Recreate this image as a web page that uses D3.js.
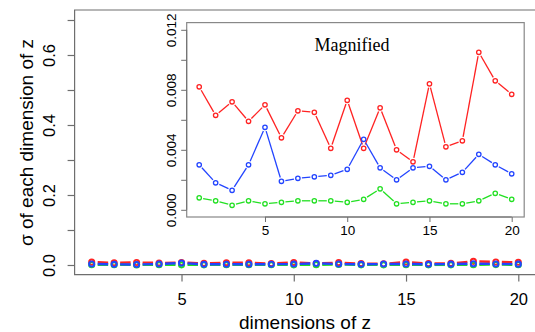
<!DOCTYPE html>
<html>
<head>
<meta charset="utf-8">
<script src="https://cdn.jsdelivr.net/npm/d3@7"></script>
<style>
  body { margin: 0; background: #fff; }
  svg { display: block; }
  text { font-family: "Liberation Sans", Arial, sans-serif; fill: #000; }
</style>
</head>
<body>
<svg id="chart" width="535" height="332"></svg>
<script>
// dimensions of z
const dims = d3.range(1, 21);

// sigma per dimension, three runs
const sigmaRed = [0.0082, 0.0063, 0.0072, 0.0059, 0.0070, 0.0048, 0.0066, 0.0065, 0.0041, 0.0073,
                  0.0041, 0.0068, 0.0040, 0.0032, 0.0084, 0.0042, 0.0046, 0.0105, 0.0086, 0.0077];
const sigmaBlue = [0.0030, 0.0018, 0.0013, 0.0030, 0.0055, 0.0019, 0.0021, 0.0022, 0.0023, 0.0027,
                   0.0047, 0.0028, 0.0020, 0.0028, 0.0029, 0.0020, 0.0025, 0.0037, 0.0030, 0.0024];
const sigmaGreen = [0.0008, 0.0006, 0.0003, 0.0006, 0.0004, 0.0005, 0.0006, 0.0006, 0.0006, 0.0005,
                    0.0007, 0.0014, 0.0004, 0.0005, 0.0006, 0.0004, 0.0004, 0.0006, 0.0011, 0.0007];

const series = [
  { name: 'red', color: '#ff2222', values: sigmaRed },
  { name: 'green', color: '#22e022', values: sigmaGreen },
  { name: 'blue', color: '#2244ff', values: sigmaBlue },
];

const mainXTicks = [5, 10, 15, 20];
const mainYTicks = [0, 0.1, 0.2, 0.3, 0.4, 0.5, 0.6, 0.7];
const mainYLabels = [0, 0.2, 0.4, 0.6];
const insetXTicks = [5, 10, 15, 20];
const insetYTicks = [0, 0.002, 0.004, 0.006, 0.008, 0.010, 0.012];
const insetYLabels = [0, 0.004, 0.008, 0.012];

const svg = d3.select('#chart');
const axisGrey = '#6e6e6e';

// main plot scales
const x = d3.scaleLinear().domain([1, 20]).range([91.7, 518.3]);
const y = d3.scaleLinear().domain([0, 0.7]).range([265, 20]);
const plotLeft = 74.6, plotTop = 10, plotBottom = 274.6;

// inset scales
const ix = d3.scaleLinear().domain([1, 20]).range([199.2, 511.7]);
const iy = d3.scaleLinear().domain([0, 0.012]).range([209.8, 29.8]);
const insetBox = { x0: 186.7, x1: 524.2, y0: 22.6, y1: 217 };

// R-style "b" type: segments that stop short of the points
function gapSegments(vals, sx, sy, gap) {
  const out = [];
  for (let i = 0; i < vals.length - 1; i++) {
    const x1 = sx(dims[i]), y1 = sy(vals[i]);
    const x2 = sx(dims[i + 1]), y2 = sy(vals[i + 1]);
    const len = Math.hypot(x2 - x1, y2 - y1);
    if (len <= 2 * gap) continue;
    const ux = (x2 - x1) / len, uy = (y2 - y1) / len;
    out.push([x1 + ux * gap, y1 + uy * gap, x2 - ux * gap, y2 - uy * gap]);
  }
  return out;
}

function drawSeries(g, sx, sy, opts) {
  series.forEach((s) => {
    const sg = g.append('g');
    sg.selectAll('line')
      .data(gapSegments(s.values, sx, sy, opts.gap))
      .join('line')
      .attr('x1', (d) => d[0]).attr('y1', (d) => d[1])
      .attr('x2', (d) => d[2]).attr('y2', (d) => d[3])
      .attr('stroke', s.color)
      .attr('stroke-width', opts.lw);
    sg.selectAll('circle')
      .data(s.values)
      .join('circle')
      .attr('cx', (d, i) => sx(dims[i]))
      .attr('cy', (d) => sy(d))
      .attr('r', opts.r)
      .attr('fill', 'none')
      .attr('stroke', s.color)
      .attr('stroke-width', opts.cw);
  });
}

// ---- main plot ----
// box (right side falls off the picture)
svg.append('path')
  .attr('d', `M535,${plotTop}H${plotLeft}V${plotBottom}H535`)
  .attr('fill', 'none')
  .attr('stroke', axisGrey)
  .attr('stroke-width', 1.2);

const yAxis = svg.append('g')
  .attr('transform', `translate(${plotLeft},0)`)
  .call(d3.axisLeft(y).tickValues(mainYTicks).tickSize(7)
    .tickFormat((d) => (mainYLabels.includes(d) ? d3.format('.1f')(d) : '')));
yAxis.select('.domain').remove();
yAxis.selectAll('line').attr('stroke', axisGrey).attr('stroke-width', 1.2);
yAxis.selectAll('text')
  .attr('transform', 'rotate(-90)')
  .attr('x', 0).attr('y', -19.6).attr('dy', null)
  .attr('text-anchor', 'middle')
  .style('font-size', '16.5px')
  .style('font-family', '"Liberation Sans", Arial, sans-serif');

const xAxis = svg.append('g')
  .attr('transform', `translate(0,${plotBottom})`)
  .call(d3.axisBottom(x).tickValues(mainXTicks).tickSize(7).tickPadding(0));
xAxis.select('.domain').remove();
xAxis.selectAll('line').attr('stroke', axisGrey).attr('stroke-width', 1.2);
xAxis.selectAll('text')
  .attr('y', 30).attr('dy', null)
  .style('font-size', '16.5px')
  .style('font-family', '"Liberation Sans", Arial, sans-serif');

svg.append('text')
  .attr('x', 305).attr('y', 329)
  .attr('text-anchor', 'middle')
  .style('font-size', '19px')
  .text('dimensions of z');

svg.append('text')
  .attr('transform', 'translate(33,142.5) rotate(-90)')
  .attr('text-anchor', 'middle')
  .style('font-size', '19px')
  .text('σ of each dimension of z');

drawSeries(svg.append('g'), x, y, { r: 2.6, cw: 1.9, lw: 2.4, gap: 6 });

// ---- inset ----
svg.append('rect')
  .attr('x', insetBox.x0).attr('y', insetBox.y0)
  .attr('width', insetBox.x1 - insetBox.x0)
  .attr('height', insetBox.y1 - insetBox.y0)
  .attr('fill', '#fff')
  .attr('stroke', '#888')
  .attr('stroke-width', 1.2);

const iyAxis = svg.append('g')
  .attr('transform', `translate(${insetBox.x0},0)`)
  .call(d3.axisLeft(iy).tickValues(insetYTicks).tickSize(5.5)
    .tickFormat((d) => (insetYLabels.some((v) => Math.abs(v - d) < 1e-9) ? d3.format('.3f')(d) : '')));
iyAxis.select('.domain')
  .attr('d', `M0,${iy(0)}V${iy(0.012)}`)
  .attr('stroke', axisGrey);
iyAxis.selectAll('line').attr('stroke', axisGrey);
iyAxis.selectAll('text')
  .attr('transform', 'rotate(-90)')
  .attr('x', 0).attr('y', -10.7).attr('dy', null)
  .attr('text-anchor', 'middle')
  .style('font-size', '13.5px')
  .style('font-family', '"Liberation Sans", Arial, sans-serif');

const ixAxis = svg.append('g')
  .attr('transform', `translate(0,${insetBox.y1})`)
  .call(d3.axisBottom(ix).tickValues(insetXTicks).tickSize(5).tickPadding(0));
ixAxis.select('.domain')
  .attr('d', `M${ix(5)},0H${ix(20)}`)
  .attr('stroke', axisGrey);
ixAxis.selectAll('line').attr('stroke', axisGrey);
ixAxis.selectAll('text')
  .attr('y', 18).attr('dy', null)
  .style('font-size', '13.5px')
  .style('font-family', '"Liberation Sans", Arial, sans-serif');

svg.append('text')
  .attr('x', 352).attr('y', 51)
  .attr('text-anchor', 'middle')
  .style('font-family', '"Liberation Serif", "Times New Roman", serif')
  .style('font-size', '18px')
  .text('Magnified');

drawSeries(svg.append('g'), ix, iy, { r: 2.2, cw: 1.3, lw: 1.3, gap: 4 });
</script>
</body>
</html>
